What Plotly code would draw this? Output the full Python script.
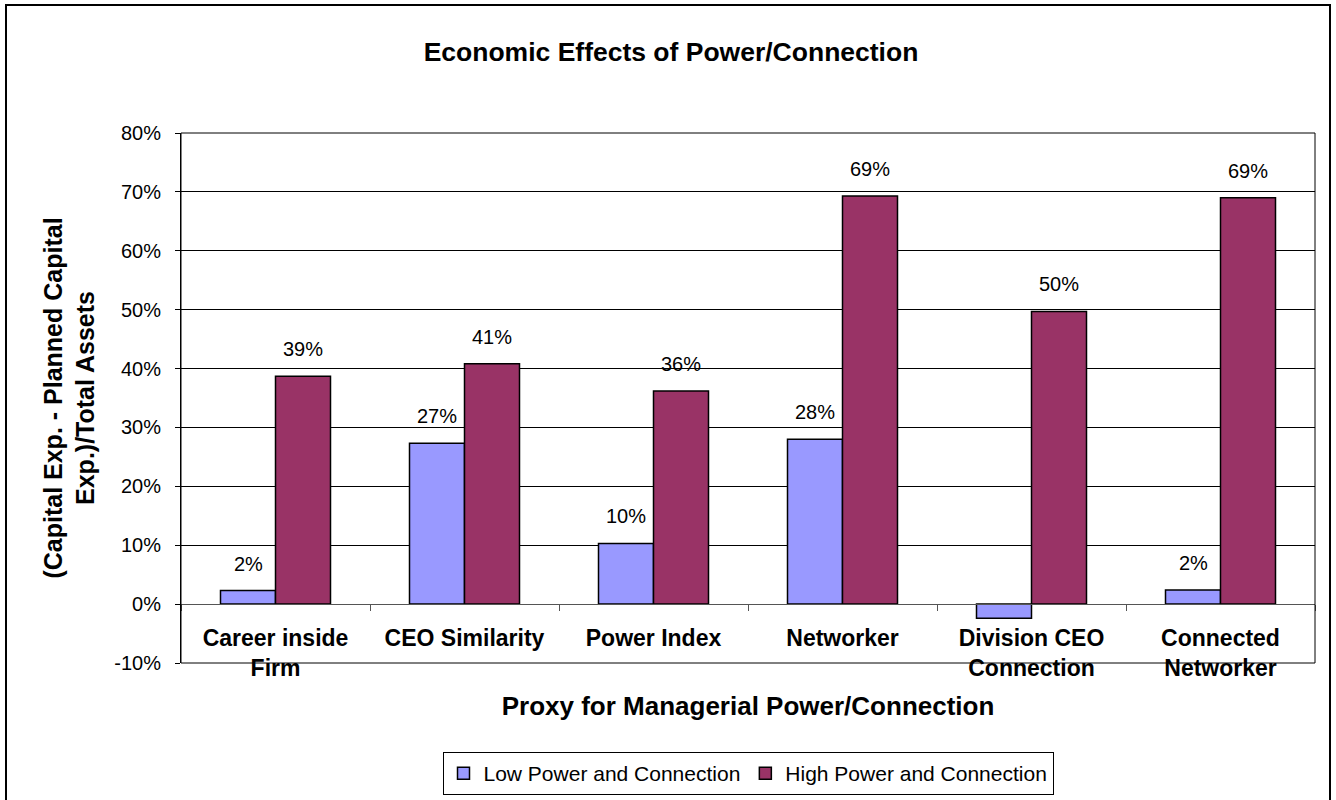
import plotly.graph_objects as go

# Categories (proxies) and the two series, as fractions of total assets
categories = ["Career inside Firm", "CEO Similarity", "Power Index", "Networker",
              "Division CEO Connection", "Connected Networker"]
category_ticktext = ["Career inside<br>Firm", "CEO Similarity", "Power Index", "Networker",
                     "Division CEO<br>Connection", "Connected<br>Networker"]
low_values = [0.023, 0.273, 0.103, 0.280, -0.024, 0.024]
high_values = [0.387, 0.408, 0.362, 0.693, 0.497, 0.690]
series_names = ["Low Power and Connection", "High Power and Connection"]
y_tickvals = [-0.1, 0.0, 0.1, 0.2, 0.3, 0.4, 0.5, 0.6, 0.7, 0.8]
y_ticktext = ["-10%", "0%", "10%", "20%", "30%", "40%", "50%", "60%", "70%", "80%"]

FONT = "Liberation Sans, Arial, sans-serif"
LOW_COLOR = "#9999FF"
HIGH_COLOR = "#993366"

W, H = 1336, 800
M_L, M_R, M_T, M_B = 181, 21, 133, 137
plot_w = W - M_L - M_R
plot_h = H - M_T - M_B
y_min, y_max = -0.1, 0.8

fig = go.Figure()
for name, vals, color in [(series_names[0], low_values, LOW_COLOR),
                          (series_names[1], high_values, HIGH_COLOR)]:
    fig.add_trace(go.Bar(
        x=categories, y=vals, name=name,
        marker=dict(color=color, line=dict(color="#000000", width=1.5)),
    ))

# Value labels above the bars (positive values only)
cat_px = plot_w / len(categories)
bargap = 0.418
bar_px = cat_px * (1 - bargap) / 2
for vals, shift in [(low_values, -bar_px / 2), (high_values, bar_px / 2)]:
    for c, v in zip(categories, vals):
        if v < 0:
            continue
        fig.add_annotation(
            x=c, y=v, xref="x", yref="y", text=f"{round(v * 100)}%",
            showarrow=False, xshift=shift, yshift=27, yanchor="middle",
            font=dict(family=FONT, size=20, color="#000000"),
        )

# Outer chart border
def px_to_paper_x(px):
    return (px - M_L) / plot_w

def px_to_paper_y(py):
    return (H - M_B - py) / plot_h

fig.add_shape(type="rect", xref="paper", yref="paper",
              x0=px_to_paper_x(6), x1=px_to_paper_x(1330),
              y0=px_to_paper_y(812), y1=px_to_paper_y(5),
              line=dict(color="#000000", width=2), fillcolor="rgba(0,0,0,0)",
              layer="below")
# Plot-area frame
fig.add_shape(type="rect", xref="paper", yref="paper", x0=0, x1=1, y0=0, y1=1,
              line=dict(color="#000000", width=1), fillcolor="rgba(0,0,0,0)",
              layer="above")

zero_pos = (0 - y_min) / (y_max - y_min)

fig.update_layout(
    width=W, height=H,
    margin=dict(l=M_L, r=M_R, t=M_T, b=M_B, pad=0, autoexpand=False),
    paper_bgcolor="#FFFFFF", plot_bgcolor="#FFFFFF",
    barmode="group", bargap=bargap, bargroupgap=0,
    title=dict(text="<b>Economic Effects of Power/Connection</b>",
               x=671 / W, xanchor="center", y=1 - 52 / H, yanchor="middle",
               font=dict(family=FONT, size=26.5, color="#000000")),
    font=dict(family=FONT, color="#000000"),
    showlegend=True,
    legend=dict(orientation="h", x=0.5, xanchor="center",
                y=px_to_paper_y(752), yanchor="top",
                bordercolor="#000000", borderwidth=1, bgcolor="#FFFFFF",
                font=dict(family=FONT, size=21, color="#000000"),
                traceorder="normal", itemwidth=30),
    xaxis=dict(
        type="category", automargin=False,
        anchor="free", position=zero_pos,
        tickmode="array", tickvals=categories,
        ticktext=[f"<b>{t}</b>" for t in category_ticktext],
        tickson="boundaries", ticks="outside", ticklen=6, tickcolor="#555555",
        showline=True, linecolor="#555555", linewidth=1,
        showgrid=False,
        tickfont=dict(family=FONT, size=23, color="#000000"),
        ticklabelstandoff=13,
        title=dict(text="<b>Proxy for Managerial Power/Connection</b>",
                   font=dict(family=FONT, size=26, color="#000000"),
                   standoff=17),
        fixedrange=True,
    ),
    yaxis=dict(
        range=[y_min, y_max], tickvals=y_tickvals, ticktext=y_ticktext,
        automargin=False,
        showgrid=True, gridcolor="#000000", gridwidth=1,
        zeroline=False,
        showline=True, linecolor="#000000", linewidth=1,
        ticks="outside", ticklen=5, tickcolor="#000000",
        tickfont=dict(family=FONT, size=20, color="#000000"),
        ticklabelstandoff=10,
        title=dict(text="<b>(Capital Exp. - Planned Capital<br>Exp.)/Total Assets</b>",
                   font=dict(family=FONT, size=25, color="#000000"),
                   standoff=12),
        fixedrange=True,
    ),
)

fig.write_html("out.html")
